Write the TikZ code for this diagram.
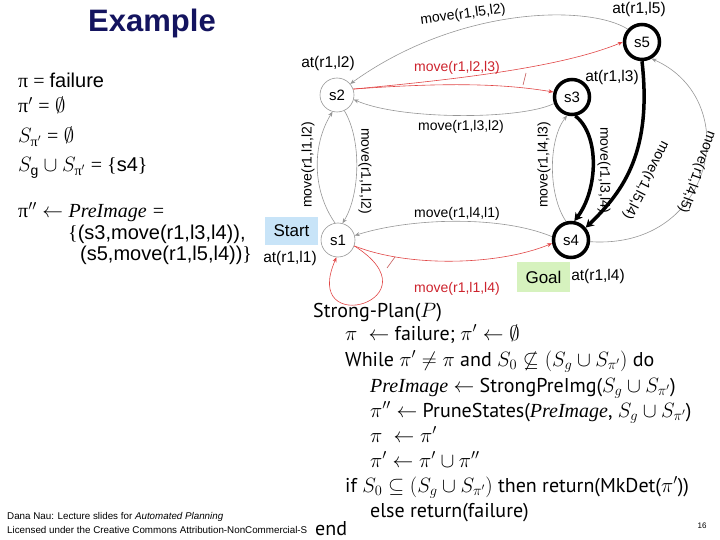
\documentclass[tikz,border=0pt]{standalone}
\usepackage{amsmath,amssymb}
\usepackage{fontspec}
\setmainfont{Liberation Sans}
\newfontfamily\tnr{Liberation Serif}
\newfontfamily\algf{PT Sans}
\usetikzlibrary{arrows.meta}
\definecolor{titleblue}{RGB}{20,20,95}
\definecolor{redE}{RGB}{225,70,70}
\definecolor{redT}{RGB}{205,35,45}
\definecolor{startblue}{RGB}{200,228,248}
\definecolor{goalgreen}{RGB}{214,242,190}
\definecolor{edgegray}{RGB}{150,150,150}
\tikzset{
  st/.style={circle, draw=edgegray, line width=0.6pt, minimum size=34pt, inner sep=0pt, font=\fontsize{15}{15}\selectfont},
  stb/.style={circle, draw=black, line width=3.5pt, minimum size=35pt, inner sep=0pt, font=\fontsize{15}{15}\selectfont},
  lab/.style={font=\fontsize{14}{14}\selectfont, inner sep=1pt},
  atl/.style={font=\fontsize{15.5}{15.5}\selectfont, inner sep=1pt},
  ge/.style={draw=edgegray, line width=0.6pt, -{Stealth[length=5pt,width=4pt]}},
  re/.style={draw=redE, line width=0.6pt, -{Stealth[length=5pt,width=4pt]}},
  be/.style={draw=black, line width=3.5pt, -{Stealth[length=8pt,width=9pt]}},
  tick/.style={draw=redE!70!gray, line width=0.6pt},
  lt/.style={anchor=base west, inner sep=0pt, font=\fontsize{20}{20}\selectfont},
  al/.style={anchor=base west, inner sep=0pt, font=\algf\fontsize{20}{20}\selectfont},
  ft/.style={anchor=base west, inner sep=0pt, font=\fontsize{9.8}{9.8}\selectfont},
}
\begin{document}
\begin{tikzpicture}[x=1pt,y=-1pt]
\useasboundingbox (0,0) rectangle (720,540);
% title
\node[anchor=base, inner sep=0pt, text=titleblue, font=\fontsize{31}{31}\selectfont\bfseries] (title) at (152,32) {Example};
% left text
\node[lt] (t1) at (18,88) {{\tnr π = }failure};
\node[lt] (t2) at (18,113) {{\tnr π}$'$ {\tnr =} $\emptyset$};
\node[lt] (t3) at (18,143) {$S_{\text{\tnr π}'}$ {\tnr =} $\emptyset$};
\node[lt] (t4) at (18,172) {$S_{\mathrm{g}} \cup S_{\text{\tnr π}'}$ {\tnr = \{}s4{\tnr \}}};
\node[lt] (t5) at (18,218) {{\tnr π}$''$ $\leftarrow$ {\tnr\itshape PreImage =}};
\node[lt] (t6) at (68,240) {{\tnr\{}(s3,move(r1,l3,l4)),};
\node[lt] (t7) at (80,260) {(s5,move(r1,l5,l4)){\tnr\}}};
% boxes
\node[fill=startblue, minimum width=53pt, minimum height=28pt, inner sep=0pt, font=\fontsize{17}{17}\selectfont] (start) at (291.5,231) {Start};
\node[fill=goalgreen, minimum width=53pt, minimum height=30pt, inner sep=0pt, font=\fontsize{17}{17}\selectfont] (goal) at (543.5,277) {Goal};
% states
\node[st] (s2) at (337,95) {s2};
\node[st] (s1) at (338,240) {s1};
\node[stb] (s3) at (572,97) {s3};
\node[stb] (s5) at (642,42) {s5};
\node[stb] (s4) at (571,240) {s4};
% state labels
\node[atl] (a5) at (639,9) {at(r1,l5)};
\node[atl] (a2) at (328,63) {at(r1,l2)};
\node[atl] (a3) at (612,77) {at(r1,l3)};
\node[atl] (a1) at (290,258) {at(r1,l1)};
\node[atl] (a4) at (598,276) {at(r1,l4)};
% gray edges
\draw[ge] (s5.138) .. controls (590,5) and (460,5) .. (s2.40);
\draw[ge] (s3.200) .. controls (520,120) and (400,120) .. (s2.-15);
\draw[ge] (s1.100) .. controls (312,190) and (312,145) .. (s2.-105);
\draw[ge] (s2.-65) .. controls (362,140) and (360,195) .. (s1.75);
\draw[ge] (s4.170) .. controls (500,215) and (410,218) .. (s1.15);
\draw[ge] (s4.105) .. controls (548,195) and (548,140) .. (s3.-105);
\draw[ge] (s4.-5) .. controls (715,250) and (745,100) .. (s5.-60);
% red edges
\draw[re] (s2.20) .. controls (450,80) and (560,68) .. (s5.180);
\draw[re] (s2.20) .. controls (450,82) and (505,84) .. (s3.165);
\coordinate (k1) at (526,73);
\coordinate (k2) at (523,85);
\draw[tick] (k1) -- (k2);
\draw[re] (s1.-20) .. controls (410,268) and (500,265) .. (s4.190);
\draw[re] (s1.-20) .. controls (440,300) and (300,340) .. (s1.-95);
\coordinate (k3) at (387,268);
\coordinate (k4) at (395,257);
\draw[tick] (k3) -- (k4);
% thick edges
\draw[be] (s3.-80) .. controls (600,135) and (598,190) .. (s4.80);
\draw[be] (s5.-90) .. controls (652,150) and (625,190) .. (s4.40);
% edge labels
\node[lab, rotate=8] (m52) at (463,15) {move(r1,l5,l2)};
\node[lab, text=redT] (m23) at (457,68) {move(r1,l2,l3)};
\node[lab] (m32) at (461,127) {move(r1,l3,l2)};
\node[lab, rotate=90] (m12a) at (308,165) {move(r1,l1,l2)};
\node[lab, rotate=-90] (m12b) at (365,171) {move(r1,l1,l2)};
\node[lab] (m41) at (457,214) {move(r1,l4,l1)};
\node[lab, text=redT] (m14) at (457,289) {move(r1,l1,l4)};
\node[lab, rotate=90] (m43) at (544,165) {move(r1,l4,l3)};
\node[lab, rotate=-90] (m34) at (604,170) {move(r1,l3,l4)};
\node[lab, rotate=-117] (m54) at (646,180) {move(r1,l5,l4)};
\node[lab, rotate=-110] (m45) at (697,172) {move(r1,l4,l5)};
% footer
\node[ft] (f1) at (7,519) {Dana Nau: Lecture slides for \textit{Automated Planning}};
\node[ft] (f2) at (7,533) {Licensed under the Creative Commons Attribution-NonCommercial-S};
% algorithm
\node[al] (p0) at (313,317) {Strong-Plan($P$)};
\node[al] (p1) at (345,340) {$\pi\ \leftarrow$ failure; $\pi'\leftarrow\emptyset$};
\node[al] (p2) at (345,366) {While $\pi'\neq\pi$ and $S_0\not\subseteq(S_g\cup S_{\pi'})$ do};
\node[al] (p3) at (370,392) {{\tnr\itshape PreImage} $\leftarrow$ StrongPreImg($S_g\cup S_{\pi'}$)};
\node[al] (p4) at (370,417) {$\pi''\leftarrow$ PruneStates({\tnr\itshape PreImage}, $S_g\cup S_{\pi'}$)};
\node[al] (p5) at (370,442) {$\pi\ \leftarrow\pi'$};
\node[al] (p6) at (370,467) {$\pi'\leftarrow\pi'\cup\pi''$};
\node[al] (p7) at (345,492) {if $S_0\subseteq(S_g\cup S_{\pi'})$ then return(MkDet($\pi'$))};
\node[al] (p8) at (370,517) {else return(failure)};
\node[al] (p9) at (315,535) {end};
\node[anchor=base, inner sep=0pt, font=\fontsize{8}{8}\selectfont] (pg) at (702,528) {16};
\end{tikzpicture}
\end{document}
